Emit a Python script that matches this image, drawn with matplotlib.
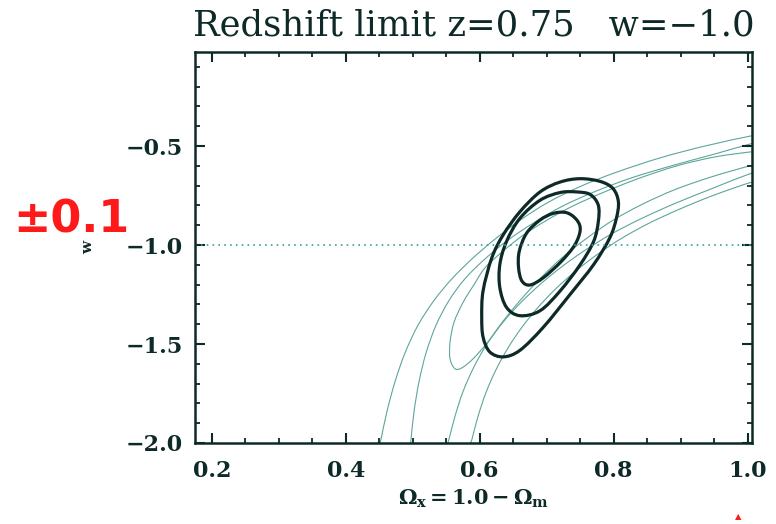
import matplotlib.pyplot as plt
from matplotlib.path import Path
from matplotlib.patches import PathPatch
import numpy as np

plt.rcParams['font.family'] = 'DejaVu Serif'
plt.rcParams['mathtext.fontset'] = 'dejavuserif'

ink = '#0e2a28'
thin_col = '#5ea59c'

# thick (combined) confidence contours
inner_x = [0.730, 0.745, 0.750, 0.742, 0.722, 0.695, 0.675, 0.663, 0.658, 0.659, 0.670, 0.690, 0.710]
inner_y = [-0.837, -0.874, -0.924, -0.999, -1.082, -1.165, -1.202, -1.182, -1.115, -1.032, -0.940, -0.874, -0.840]

mid_x = [0.745, 0.765, 0.777, 0.777, 0.770, 0.750, 0.720, 0.690, 0.660, 0.640, 0.630, 0.630, 0.640, 0.660, 0.690, 0.720]
mid_y = [-0.732, -0.745, -0.799, -0.882, -0.982, -1.099, -1.232, -1.332, -1.357, -1.315, -1.215, -1.099, -0.982, -0.865, -0.774, -0.735]

outer_x = [0.750, 0.780, 0.799, 0.807, 0.804, 0.794, 0.770, 0.735, 0.695, 0.660, 0.635, 0.615, 0.605, 0.603, 0.605, 0.618, 0.635, 0.660, 0.690, 0.720]
outer_y = [-0.665, -0.679, -0.715, -0.782, -0.865, -0.965, -1.099, -1.249, -1.415, -1.532, -1.565, -1.540, -1.465, -1.365, -1.232, -1.065, -0.949, -0.832, -0.732, -0.682]

# thin contours (single probe), banana shaped bands
a_x = [0.4514, 0.4527, 0.4616, 0.4736, 0.4885, 0.5079, 0.5318, 0.5587, 0.5885, 0.6229,
       0.6601, 0.7019, 0.7497, 0.8019, 0.8691, 0.9363, 1.0035, 1.02]
a_y = [-2.00, -1.98, -1.84, -1.69, -1.545, -1.405, -1.28, -1.17, -1.07, -0.97,
       -0.875, -0.785, -0.705, -0.635, -0.56, -0.50, -0.45, -0.443]

b_x = [0.4965, 0.4975, 0.502, 0.5094, 0.5199, 0.5348, 0.5542, 0.5781, 0.608, 0.6422,
       0.6796, 0.7228, 0.7721, 0.8273, 0.8915, 0.9512, 1.0035, 1.02]
b_y = [-2.00, -1.98, -1.84, -1.69, -1.545, -1.405, -1.28, -1.17, -1.07, -0.975,
       -0.89, -0.805, -0.73, -0.66, -0.595, -0.54, -0.49, -0.482]

c_x = [1.02, 1.0035, 0.9467, 0.8915, 0.8422, 0.7989, 0.7601, 0.7243, 0.6915, 0.6616,
       0.6348, 0.6109, 0.590, 0.5736, 0.5631, 0.5557, 0.5557, 0.5617, 0.5751, 0.5915,
       0.6079, 0.6333, 0.6631, 0.6975, 0.7378, 0.7840, 0.8363, 0.8945, 0.9512, 1.0035, 1.02]
c_y = [-0.592, -0.60, -0.655, -0.72, -0.795, -0.875, -0.965, -1.06, -1.165, -1.275,
       -1.385, -1.495, -1.575, -1.62, -1.625, -1.575, -1.49, -1.39, -1.29, -1.20,
       -1.115, -1.035, -0.955, -0.88, -0.805, -0.735, -0.665, -0.60, -0.555, -0.53, -0.526]

e_x = [0.552, 0.5542, 0.5631, 0.5751, 0.5915, 0.6109, 0.6348, 0.6616, 0.6915, 0.7243,
       0.7601, 0.7989, 0.8422, 0.8915, 0.9467, 1.0035, 1.02]
e_y = [-2.00, -1.98, -1.865, -1.74, -1.615, -1.50, -1.39, -1.29, -1.195, -1.105,
       -1.02, -0.94, -0.865, -0.79, -0.715, -0.64, -0.632]

f_x = [0.586, 0.5885, 0.5975, 0.6094, 0.6243, 0.6422, 0.6631, 0.687, 0.7139, 0.7437,
       0.7766, 0.8124, 0.8527, 0.8975, 0.9482, 1.0035, 1.02]
f_y = [-2.00, -1.98, -1.865, -1.745, -1.63, -1.52, -1.415, -1.315, -1.22, -1.13,
       -1.045, -0.965, -0.89, -0.82, -0.75, -0.685, -0.678]


def smooth_path(xs, ys, closed=False):
    p = np.column_stack([xs, ys])
    if closed:
        p = np.vstack([p[-1], p, p[0], p[1]])
    else:
        p = np.vstack([p[0], p, p[-1]])
    verts = [p[1]]
    codes = [Path.MOVETO]
    for i in range(1, len(p) - 2):
        c1 = p[i] + (p[i + 1] - p[i - 1]) / 6
        c2 = p[i + 1] - (p[i + 2] - p[i]) / 6
        verts += [c1, c2, p[i + 1]]
        codes += [Path.CURVE4] * 3
    return Path(verts, codes)


fig = plt.figure(figsize=(7.76, 5.24), dpi=100)
ax = fig.add_axes([0.2513, 0.1546, 0.7174, 0.7462])

for xs, ys in [(a_x, a_y), (b_x, b_y), (c_x, c_y), (e_x, e_y), (f_x, f_y)]:
    ax.add_patch(PathPatch(smooth_path(xs, ys), fill=False, ec=thin_col, lw=0.8))

for xs, ys in [(inner_x, inner_y), (mid_x, mid_y), (outer_x, outer_y)]:
    ax.add_patch(PathPatch(smooth_path(xs, ys, closed=True), fill=False, ec=ink, lw=2.3))

ax.axhline(-1.0, color='#3aa0a0', lw=1.2, ls=(0, (1, 2.5)))

ax.set_xlim(0.175, 1.006)
ax.set_ylim(-1.985, -0.025)
ax.set_xticks([0.2, 0.4, 0.6, 0.8, 1.0])
ax.set_xticks(np.arange(0.2, 1.0001, 0.05), minor=True)
ax.set_yticks([-2.0, -1.5, -1.0, -0.5])
ax.set_yticks(np.arange(-1.9, -0.05, 0.1), minor=True)
ax.set_xticklabels(['0.2', '0.4', '0.6', '0.8', '1.0'])
ax.set_yticklabels(['\u22122.0', '\u22121.5', '\u22121.0', '\u22120.5'])
ax.tick_params(which='both', direction='in', top=True, right=True, color=ink,
               labelcolor=ink, labelsize=16)
ax.tick_params(which='major', length=7, width=1.5)
ax.tick_params(which='minor', length=3.6, width=1.3)
ax.tick_params(axis='x', pad=12)
ax.tick_params(axis='y', pad=9)
for lab in ax.get_xticklabels() + ax.get_yticklabels():
    lab.set_fontweight('bold')
for s in ax.spines.values():
    s.set_color(ink)
    s.set_linewidth(1.8)

ax.set_title('Redshift limit z=0.75   w=\u22121.0', fontsize=25.5, color=ink, pad=12)
ax.set_xlabel(r'$\mathbf{\Omega_x=1.0-\Omega_m}$', fontsize=15, color=ink, labelpad=4)
ax.set_ylabel('w', fontsize=11, fontweight='bold', color=ink)
ax.yaxis.set_label_coords(-0.18, 0.5)

# red hand annotations on the scanned page
fig.text(0.017, 1 - 233 / 524, '\u00b10.1', color='#ff1a1a', fontsize=32,
         fontweight='bold', family='DejaVu Sans')
fig.text(738 / 776, 1 - 519 / 524, '\u25b2', color='#ff1a1a', fontsize=6,
         ha='center', family='DejaVu Sans')

fig.savefig('out.png', dpi=100)
